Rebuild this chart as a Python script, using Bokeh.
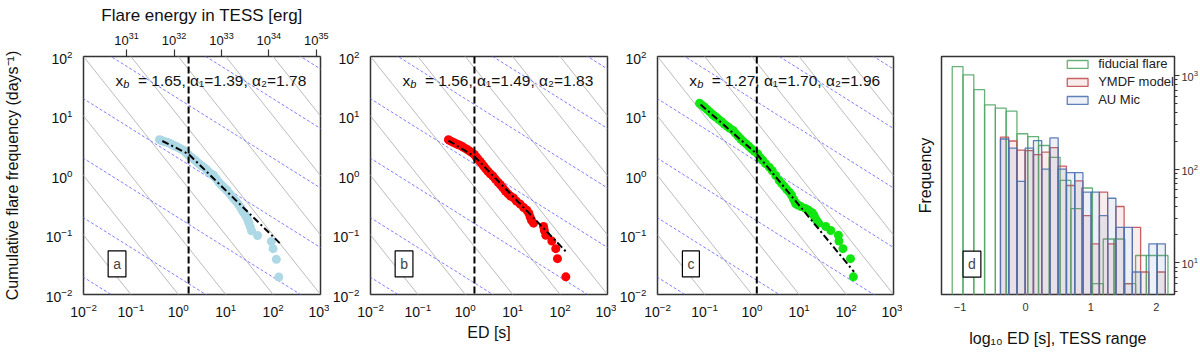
import numpy as np
from bokeh.plotting import figure
from bokeh.models import Range1d, LogAxis, Span, Label, FixedTicker
from bokeh.layouts import row
from bokeh.embed import file_html
from bokeh.resources import INLINE

FONT = "Liberation Sans"

# ---------------- data ----------------
panel_letters = ["a", "b", "c"]
xb_values = [1.65, 1.56, 1.27]
alpha1_values = [1.39, 1.49, 1.70]
alpha2_values = [1.78, 1.83, 1.96]
point_colors = ["#add8e6", "#ff0000", "#11e611"]

ed_a = [0.40, 0.43, 0.47, 0.52, 0.58, 0.65, 0.72, 0.80, 0.88, 0.95, 1.05, 1.15, 1.31, 1.45, 1.60,
        1.75, 1.95, 2.1, 2.3, 2.55, 2.8, 3.1, 3.45, 3.9, 4.4, 5.0, 5.6, 6.3, 7.2, 8.0, 9.0, 10.0,
        10.7, 12.0, 13.3, 14.8, 16.5, 18.5, 20.5, 22.3, 24.1, 26, 28, 29.5, 31, 33, 35, 47, 92,
        100, 117, 132]
freq_a = [4.0, 3.9, 3.8, 3.7, 3.62, 3.5, 3.35, 3.2, 3.1, 3.0, 2.88, 2.78, 2.63, 2.42, 2.25,
          2.1, 1.98, 1.88, 1.79, 1.65, 1.55, 1.45, 1.38, 1.26, 1.15, 1.06, 1.0, 0.88, 0.77, 0.70,
          0.64, 0.59, 0.56, 0.50, 0.45, 0.405, 0.37, 0.33, 0.293, 0.26, 0.235, 0.216, 0.196,
          0.176, 0.157, 0.137, 0.118, 0.098, 0.078, 0.059, 0.039, 0.0196]

ed_b = [0.44, 0.47, 0.52, 0.58, 0.65, 0.72, 0.80, 0.90, 1.0, 1.12, 1.25, 1.40, 1.55, 1.70, 1.85,
        2.05, 2.25, 2.45, 2.7, 3.0, 3.35, 3.8, 4.3, 4.9, 5.5, 6.2, 7.0, 8.0, 9.0, 10.4, 12, 14.4,
        17, 20, 22, 23.4, 25, 27.5, 44.7, 46.5, 50, 67, 81, 88, 132]
freq_b = [4.0, 3.85, 3.7, 3.55, 3.4, 3.28, 3.17, 3.0, 2.85, 2.7, 2.55, 2.4, 2.25, 2.05, 1.9,
          1.72, 1.57, 1.43, 1.3, 1.18, 1.07, 0.98, 0.87, 0.77, 0.70, 0.62, 0.55, 0.49, 0.45, 0.42,
          0.37, 0.33, 0.29, 0.26, 0.23, 0.20, 0.176, 0.158, 0.139, 0.119, 0.099, 0.079, 0.059,
          0.040, 0.0198]

ed_c = [0.078, 0.088, 0.10, 0.113, 0.128, 0.145, 0.16, 0.176, 0.20, 0.23, 0.26, 0.30, 0.34, 0.40,
        0.45, 0.51, 0.58, 0.66, 0.755, 0.86, 0.98, 1.13, 1.33, 1.5, 1.7, 1.95, 2.34, 2.7, 3.2, 3.8,
        4.3, 4.9, 5.5, 6.2, 6.9, 7.6, 8.2, 8.5, 9.5, 11, 13.5, 16, 18.6, 20.5, 21.5, 23.4, 26,
        36.7, 47, 68, 70, 85, 123, 141]
freq_c = [16.4, 15.2, 14.0, 12.8, 11.7, 10.7, 10.0, 9.5, 8.7, 8.0, 7.3, 6.7, 6.2, 5.7,
          5.1, 4.6, 4.1, 3.7, 3.4, 3.1, 2.8, 2.55, 2.3, 2.0, 1.8, 1.58, 1.38, 1.2, 1.0, 0.82,
          0.73, 0.65, 0.58, 0.525, 0.47, 0.40, 0.36, 0.334, 0.32, 0.30, 0.28, 0.26, 0.24, 0.218,
          0.198, 0.178, 0.158, 0.139, 0.119, 0.099, 0.079, 0.059, 0.040, 0.0198]

fit_x_a = [0.46, 1.65, 138]
fit_y_a = [3.8, 2.29, 0.073]
fit_x_b = [0.44, 1.56, 132]
fit_y_b = [3.87, 2.09, 0.053]
fit_x_c = [0.082, 1.27, 146]
fit_y_c = [15.6, 2.3, 0.024]

# guide lines: grey ones y = c / x, blue dashed ones y = c / sqrt(x)
grey_levels = [1e-4, 1e-3, 1e-2, 1e-1, 1e0, 1e1, 1e2, 1e3, 1e4, 1e5]
blue_levels = [1.95e-4, 1.95e-3, 1.95e-2, 1.95e-1, 1.95, 19.5, 195, 1950]

erg_per_ed_second = 1.23e32   # TESS energy / ED

# histograms (panel d)
fiducial_counts = [1247, 1017, 708, 487, 448, 416, 239, 223, 179, 134,
                   76, 38, 63, 6, 18, 18, 6, 12, 12, 12]
ymdf_counts = [220, 200, 160, 158, 143, 152, 170, 108, 67, 75,
               32, 16, 57, 16, 40, 6, 24, 8, 0, 8]
aumic_counts = [210, 168, 74, 168, 202, 100, 216, 100, 92, 92,
                57, 57, 32, 49, 24, 24, 8, 0, 16, 16]
fiducial_edges = np.linspace(-1.12, 2.18, 21)
model_edges = np.linspace(-0.382, 2.14, 21)
hist_labels = ["fiducial flare", "YMDF model", "AU Mic"]

FRAME_COLOR = "#333333"
FH = 238          # frame height
TOP, BOTTOM = 56, 57
NBSP = "\u00a0"


def base_style(p):
    p.outline_line_color = FRAME_COLOR
    p.outline_line_width = 1.5
    p.xgrid.visible = False
    p.ygrid.visible = False
    p.background_fill_color = "white"
    p.border_fill_color = "white"


def style_axis(ax, size="14px"):
    ax.major_label_text_font = FONT
    ax.major_label_text_font_size = size
    ax.major_label_text_color = "#111111"
    ax.axis_label_text_font = FONT
    ax.axis_label_text_font_size = "16px"
    ax.axis_label_text_font_style = "normal"
    ax.axis_label_text_color = "#111111"
    ax.major_tick_in = 0
    ax.major_tick_out = 0
    ax.minor_tick_in = 0
    ax.minor_tick_out = 0
    ax.axis_line_color = None


def ffd_panel(i, ed, freq, fx, fy, fw, left, right, top_axis=False, ylabel=None, xlabel=None):
    p = figure(frame_width=fw, frame_height=FH, x_axis_type="log", y_axis_type="log",
               x_range=Range1d(1e-2, 1e3), y_range=Range1d(1e-2, 1e2),
               output_backend="svg", toolbar_location=None,
               min_border_left=left, min_border_right=right,
               min_border_top=TOP, min_border_bottom=BOTTOM)
    base_style(p)
    gx = [1e-3, 1e4]
    p.multi_line([gx] * len(grey_levels), [[c / gx[0], c / gx[1]] for c in grey_levels],
                 line_color="#b3b3b3", line_width=0.9)
    p.multi_line([gx] * len(blue_levels),
                 [[c / np.sqrt(gx[0]), c / np.sqrt(gx[1])] for c in blue_levels],
                 line_color="#6f6fff", line_width=0.9, line_dash="3 2")
    p.add_layout(Span(location=xb_values[i], dimension="height", line_color="black",
                      line_width=2, line_dash="7 3"))
    p.scatter(ed, freq, size=9, color=point_colors[i], line_color=None)
    p.line(fx, fy, line_color="black", line_width=2, line_dash="7 3 2 3")

    for ax in p.xaxis:
        style_axis(ax)
        ax.major_label_standoff = 8
    for ax in p.yaxis:
        style_axis(ax)
        ax.major_label_standoff = 11
    if ylabel:
        p.yaxis.axis_label = ylabel
        p.yaxis.axis_label_standoff = 22
    if xlabel:
        p.xaxis.axis_label = xlabel
        p.xaxis.axis_label_standoff = 4

    if top_axis:
        p.extra_x_ranges = {"energy": Range1d(1e-2 * erg_per_ed_second, 1e3 * erg_per_ed_second)}
        ax = LogAxis(x_range_name="energy", axis_label="Flare energy in TESS [erg]")
        style_axis(ax, "13px")
        ax.axis_label_text_font_size = "17px"
        ax.major_tick_out = 7
        ax.major_tick_line_color = FRAME_COLOR
        ax.major_tick_line_width = 1.2
        ax.major_label_standoff = 5
        ax.axis_label_standoff = 4
        p.add_layout(ax, "above")

    # annotation text
    X, Y = 0.0473, 39.5
    p.add_layout(Label(x=X, y=Y, text="x", text_font=FONT, text_font_size="15.5px",
                       text_baseline="alphabetic", text_color="#111111"))
    p.add_layout(Label(x=X, y=Y, x_offset=7.8, y_offset=-3, text="b", text_font=FONT,
                       text_font_size="11px", text_font_style="italic",
                       text_baseline="alphabetic", text_color="#111111"))
    rest = (f"={xb_values[i]:.2f}, \u03b1\u2081={alpha1_values[i]:.2f},"
            f" \u03b1\u2082={alpha2_values[i]:.2f}").replace(" ", NBSP)
    p.add_layout(Label(x=X, y=Y, x_offset=13.8, text=NBSP + rest.replace("=", NBSP + "=" + NBSP, 1),
                       text_font=FONT, text_font_size="15.5px", text_baseline="alphabetic",
                       text_color="#111111"))
    # panel letter
    p.add_layout(Label(x=0.051, y=0.0326, text=panel_letters[i], text_font=FONT,
                       text_font_size="14px", text_align="center", text_baseline="middle",
                       border_line_color="black", border_line_width=1.2,
                       background_fill_color="white", padding=5))
    return p


pa = ffd_panel(0, ed_a, freq_a, fit_x_a, fit_y_a, 237, 83, 9, top_axis=True,
               ylabel="Cumulative flare frequency (days\u207b\u00b9)")
pb = ffd_panel(1, ed_b, freq_b, fit_x_b, fit_y_b, 237, 38, 9, xlabel="ED [s]")
pc = ffd_panel(2, ed_c, freq_c, fit_x_c, fit_y_c, 236, 38, 9)

# ---------------- panel d ----------------
pd_ = figure(frame_width=233, frame_height=FH, y_axis_type="log", y_axis_location="right",
             x_range=Range1d(-1.284, 2.28), y_range=Range1d(4.6, 1596),
             output_backend="svg", toolbar_location=None,
             min_border_left=39, min_border_right=30,
             min_border_top=TOP, min_border_bottom=BOTTOM)
base_style(pd_)

hist_specs = [
    (fiducial_counts, fiducial_edges, "#55a868", 0.0),
    (ymdf_counts, model_edges, "#c44e52", 0.11),
    (aumic_counts, model_edges, "#4c72b0", 0.10),
]
for (counts, edges, col, fa), lab in zip(hist_specs, hist_labels):
    c = np.array(counts, dtype=float)
    keep = c > 0
    pd_.quad(left=edges[:-1][keep], right=edges[1:][keep], bottom=0.1, top=c[keep],
             fill_color=col, fill_alpha=fa, line_color=col, line_width=1.3, line_alpha=0.9,
             legend_label=lab)

pd_.legend.location = "top_right"
pd_.legend.border_line_color = None
pd_.legend.background_fill_alpha = 0
pd_.legend.label_text_font = FONT
pd_.legend.label_text_font_size = "13px"
pd_.legend.label_text_color = "#222222"
pd_.legend.glyph_width = 26
pd_.legend.glyph_height = 10
pd_.legend.label_height = 14
pd_.legend.spacing = 3
pd_.legend.padding = 7
pd_.legend.margin = 0
pd_.legend.label_standoff = 8

xax = pd_.xaxis[0]
style_axis(xax, "11px")
xax.ticker = FixedTicker(ticks=[-1, 0, 1, 2])
xax.major_label_overrides = {-1: "\u22121", 0: "0", 1: "1", 2: "2"}
xax.major_label_standoff = 8
xax.major_label_text_color = "#333333"
xax.axis_label = "log\u2081\u2080 ED [s], TESS range"
xax.axis_label_standoff = 16

yax = pd_.yaxis[0]
style_axis(yax, "11px")
yax.major_label_text_color = "#333333"
yax.major_tick_out = 5
yax.minor_tick_out = 3
yax.major_tick_line_color = FRAME_COLOR
yax.minor_tick_line_color = FRAME_COLOR
yax.major_label_standoff = 2

lax = LogAxis(ticker=FixedTicker(ticks=[]), axis_label="Frequency")
style_axis(lax)
lax.axis_label_standoff = 8
pd_.add_layout(lax, "left")

pd_.add_layout(Label(x=-0.818, y=9.7, text="d", text_font=FONT, text_font_size="14px",
                     text_align="center", text_baseline="middle",
                     border_line_color="black", border_line_width=1.2,
                     background_fill_color="white", padding=5))

layout = row(pa, pb, pc, pd_)
open("out.html", "w").write(file_html(layout, INLINE))
